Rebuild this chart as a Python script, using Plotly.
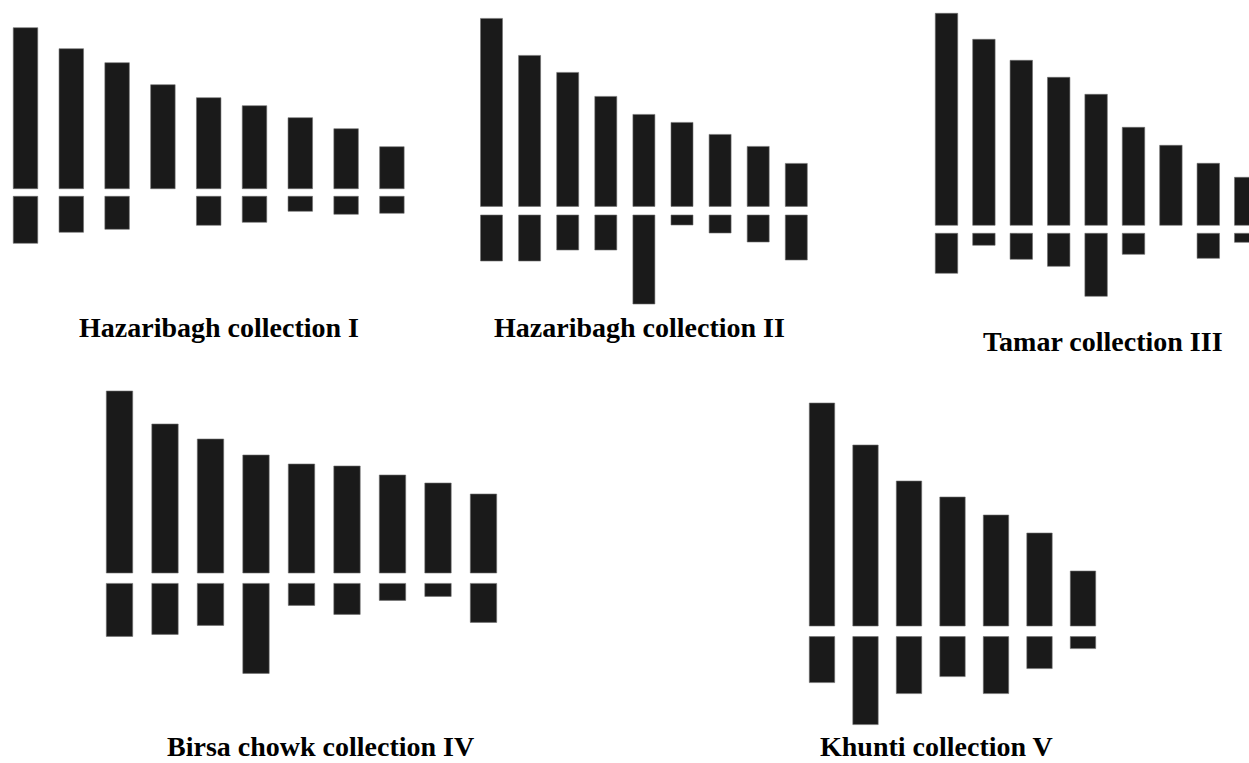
import plotly.graph_objects as go

# ---------------- data (bar lengths, arbitrary units) ----------------
titles = ["Hazaribagh collection I", "Hazaribagh collection II", "Tamar collection III",
          "Birsa chowk collection IV", "Khunti collection V"]

upper_I = [161, 140, 126, 104, 91, 83, 71, 60, 42]
lower_I = [47, 36, 33, 0, 29, 26, 15, 18, 17]

upper_II = [188, 151, 134, 110, 92, 84, 72, 60, 43]
lower_II = [46, 46, 35, 35, 89, 10, 18, 27, 45]

upper_III = [212, 186, 165, 148, 131, 98, 80, 62, 48]
lower_III = [40, 12, 26, 33, 63, 21, 0, 25, 9]

upper_IV = [182, 149, 134, 118, 109, 107, 98, 90, 79]
lower_IV = [53, 51, 42, 90, 22, 31, 17, 13, 39]

upper_V = [223, 181, 145, 129, 111, 93, 55]
lower_V = [46, 88, 57, 40, 57, 32, 12]

uppers = [upper_I, upper_II, upper_III, upper_IV, upper_V]
lowers = [lower_I, lower_II, lower_III, lower_IV, lower_V]

# ---------------- layout (pixel geometry) ----------------
W, H = 1249, 763
BAR = "#1a1a1a"
EDGE = "#707070"
# first bar centre px, spacing px, bar width (fraction), baseline px, half gap, y-domain px (top, bottom)
panels = [
    dict(c0=25.5, s=45.8, bw=0.535, base=192.5, hg=3.8, top=0, bot=305),
    dict(c0=491.5, s=38.1, bw=0.577, base=210.7, hg=4.3, top=0, bot=310),
    dict(c0=946.5, s=37.4, bw=0.60, base=229.3, hg=4.0, top=0, bot=320),
    dict(c0=119.5, s=45.5, bw=0.58, base=578.2, hg=5.2, top=380, bot=700),
    dict(c0=822.0, s=43.5, bw=0.584, base=631.3, hg=5.3, top=380, bot=735),
]
# (x centre px, y px, anchor)
title_pos = [(218.7, 311, "top"), (639.5, 311, "top"), (1103.3, 324.5, "top"),
             (320.0, 763, "bottom"), (936.0, 763, "bottom")]

fig = go.Figure()
layout = dict(width=W, height=H, margin=dict(l=0, r=0, t=0, b=0, pad=0), autosize=False,
              plot_bgcolor="white", paper_bgcolor="white", showlegend=False,
              barmode="overlay", bargap=0, annotations=[])


def shown(v):
    return v if v else None


for k, (p, up, lo) in enumerate(zip(panels, uppers, lowers)):
    n = len(up)
    idx = list(range(n))
    xa = "x" if k == 0 else f"x{k+1}"
    ya = "y" if k == 0 else f"y{k+1}"
    g = p["hg"]
    fig.add_trace(go.Bar(x=idx, y=[shown(v) for v in up], base=[g] * n, width=p["bw"],
                         xaxis=xa, yaxis=ya, opacity=1,
                         marker=dict(color=BAR, line=dict(color=EDGE, width=0.6)),
                         hoverinfo="skip"))
    fig.add_trace(go.Bar(x=idx, y=[(-v if v else None) for v in lo], base=[-g] * n, width=p["bw"],
                         xaxis=xa, yaxis=ya, opacity=1,
                         marker=dict(color=BAR, line=dict(color=EDGE, width=0.6)),
                         hoverinfo="skip"))
    d0 = max(0.0, p["c0"] - p["s"] / 2)
    d1 = min(float(W), p["c0"] + (n - 0.5) * p["s"])
    xr = [(d0 - p["c0"]) / p["s"], (d1 - p["c0"]) / p["s"]]
    yr = [-(p["bot"] - p["base"]), p["base"] - p["top"]]
    xkey = "xaxis" if k == 0 else f"xaxis{k+1}"
    ykey = "yaxis" if k == 0 else f"yaxis{k+1}"
    layout[xkey] = dict(domain=[d0 / W, d1 / W], range=xr, visible=False, fixedrange=True,
                        anchor=ya, showgrid=False, zeroline=False)
    layout[ykey] = dict(domain=[1 - p["bot"] / H, 1 - p["top"] / H], range=yr, visible=False,
                        fixedrange=True, anchor=xa, showgrid=False, zeroline=False)
    tx, ty, anc = title_pos[k]
    layout["annotations"].append(dict(
        text=titles[k], xref="paper", yref="paper", x=tx / W, y=1 - ty / H,
        xanchor="center", yanchor=anc, showarrow=False, borderpad=0,
        font=dict(family="Liberation Serif", size=28, color="black", weight="bold")))

fig.update_layout(**layout)
fig.write_html("out.html", config={"displayModeBar": False, "staticPlot": True},
               post_script="document.body.style.margin='0';document.body.style.overflow='hidden';")
